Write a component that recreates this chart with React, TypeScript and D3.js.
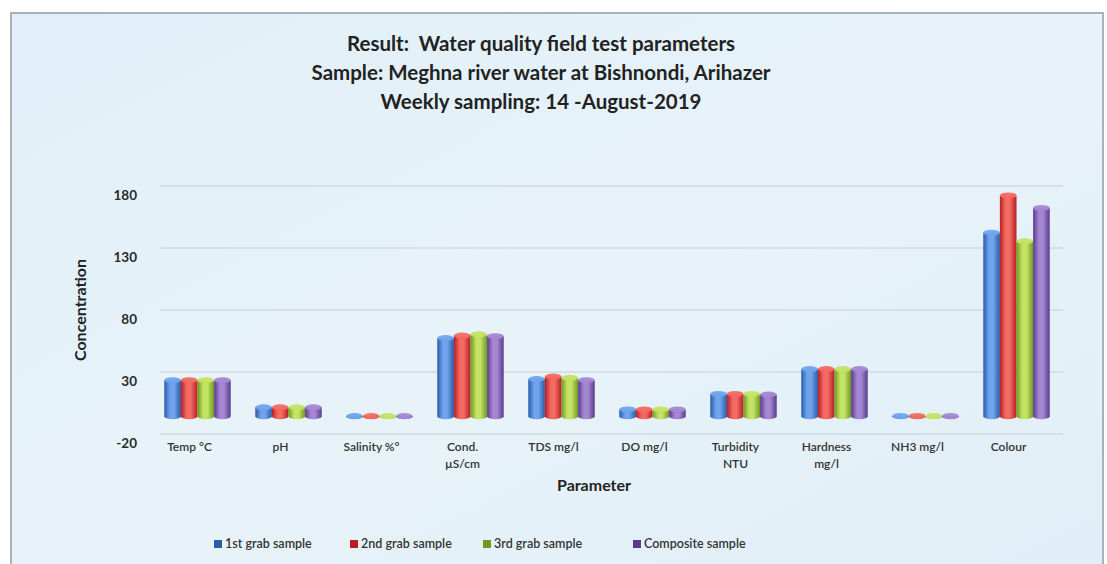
import React from 'react';
import * as d3 from 'd3';

const categories = [
  ['Temp °C'],
  ['pH'],
  ['Salinity %°'],
  ['Cond.', 'µS/cm'],
  ['TDS mg/l'],
  ['DO mg/l'],
  ['Turbidity', 'NTU'],
  ['Hardness', 'mg/l'],
  ['NH3 mg/l'],
  ['Colour'],
];

const seriesNames = ['1st grab sample', '2nd grab sample', '3rd grab sample', 'Composite sample'];

const firstGrab = [29, 7.2, 0.1, 63, 30, 5.5, 18, 38, 0.2, 148];
const secondGrab = [29, 7.2, 0.1, 65, 32, 5.5, 18, 38, 0.2, 178];
const thirdGrab = [29, 7.2, 0.1, 66, 31, 5.5, 18, 38, 0.2, 141];
const compositeSample = [29, 7.2, 0.1, 64.5, 29, 5.5, 17.5, 38, 0.2, 168];

const yTicks = [-20, 30, 80, 130, 180];

const titleLines = [
  'Result:  Water quality field test parameters',
  'Sample: Meghna river water at Bishnondi, Arihazer',
  'Weekly sampling: 14 -August-2019',
];

// light centre, dark edge for each series cylinder
const seriesColors = [
  { light: '#6fa4ec', dark: '#2b5aa8' },
  { light: '#f26a62', dark: '#b51f22' },
  { light: '#c4e264', dark: '#6e9a22' },
  { light: '#a486d2', dark: '#5a3a8c' },
];

const W = 1107;
const H = 564;
const DEPTH = 7; // back wall sits this much above the bar fronts
const FONT = 'Lato, "Open Sans", sans-serif';

export default function App() {
  const allSeries = [firstGrab, secondGrab, thirdGrab, compositeSample];

  const x = d3
    .scaleBand<number>()
    .domain(d3.range(categories.length))
    .range([152, 1062])
    .paddingInner(0.27)
    .paddingOuter(0.135);

  const xs = d3
    .scaleBand<number>()
    .domain(d3.range(seriesNames.length))
    .range([0, x.bandwidth()])
    .padding(0);

  const y = d3.scaleLinear().domain([-20, 180]).range([441, 193]);

  const ry = 3;
  const bw = xs.bandwidth();

  return (
    <svg width={W} height={H} style={{ display: 'block', position: 'absolute', left: 0, top: 0 }}>
      <defs>
        {seriesColors.map((c, i) => (
          <linearGradient key={i} id={`cyl${i}`} x1="0" x2="1" y1="0" y2="0">
            <stop offset="0%" stopColor={c.dark} />
            <stop offset="35%" stopColor={c.light} />
            <stop offset="60%" stopColor={c.light} />
            <stop offset="100%" stopColor={c.dark} />
          </linearGradient>
        ))}
        <linearGradient id="panelBg" x1="0" x2="1" y1="0" y2="1">
          <stop offset="0%" stopColor="#e0eff8" />
          <stop offset="50%" stopColor="#e8f3f9" />
          <stop offset="100%" stopColor="#e0eef7" />
        </linearGradient>
      </defs>

      <rect x={0} y={0} width={W} height={H} fill="#ffffff" />
      <rect x={11} y={13} width={1092} height={H} fill="url(#panelBg)" stroke="#a8b2ba" strokeWidth={2} />

      {titleLines.map((t, i) => (
        <text
          key={i}
          x={541}
          y={51 + i * 29}
          textAnchor="middle"
          fontFamily={FONT}
          fontWeight="bold"
          fontSize={20.5}
          fill="#222"
          style={{ whiteSpace: 'pre' }}
        >
          {t}
        </text>
      ))}

      {/* gridlines on the back wall */}
      {yTicks.map((v) => (
        <line
          key={v}
          x1={160}
          x2={1063}
          y1={y(v) - DEPTH}
          y2={y(v) - DEPTH}
          stroke="#c5ced6"
          strokeWidth={1.2}
        />
      ))}

      {yTicks.map((v) => (
        <text
          key={v}
          x={137}
          y={y(v) + 4}
          textAnchor="end"
          dominantBaseline="middle"
          fontFamily={FONT}
          fontWeight="bold"
          fontSize={13.5}
          fill="#2a2a2a"
        >
          {v}
        </text>
      ))}

      <text
        transform={`translate(86,310) rotate(-90)`}
        textAnchor="middle"
        fontFamily={FONT}
        fontWeight="bold"
        fontSize={16}
        fill="#222"
      >
        Concentration
      </text>

      {/* cylinders */}
      {categories.map((_, ci) =>
        allSeries.map((vals, si) => {
          const x0 = (x(ci) ?? 0) + (xs(si) ?? 0);
          const yTop = y(vals[ci]);
          const yBase = y(0);
          const r = bw / 2;
          const body = `M${x0},${yTop} L${x0},${yBase} A${r},${ry} 0 0 0 ${x0 + bw},${yBase} L${x0 + bw},${yTop} Z`;
          return (
            <g key={`${ci}-${si}`}>
              <path d={body} fill={`url(#cyl${si})`} />
              <ellipse cx={x0 + r} cy={yTop} rx={r} ry={ry} fill={seriesColors[si].light} opacity={0.95} />
            </g>
          );
        })
      )}

      {categories.map((lines, ci) => (
        <text
          key={ci}
          x={(x(ci) ?? 0) + x.bandwidth() / 2 - 8}
          y={451}
          textAnchor="middle"
          fontFamily={FONT}
          fontWeight={600}
          fontSize={12}
          fill="#333"
        >
          {lines.map((l, li) => (
            <tspan key={li} x={(x(ci) ?? 0) + x.bandwidth() / 2 - 8} dy={li === 0 ? 0 : 17}>
              {l}
            </tspan>
          ))}
        </text>
      ))}

      <text x={594} y={491} textAnchor="middle" fontFamily={FONT} fontWeight="bold" fontSize={16} fill="#222">
        Parameter
      </text>

      {seriesNames.map((name, i) => {
        const lx = [214, 350, 483, 633][i];
        return (
          <g key={name}>
            <rect x={lx} y={540} width={8} height={8} fill={seriesColors[i].dark} />
            <text x={lx + 11} y={548} fontFamily={FONT} fontWeight={600} fontSize={12.5} fill="#333">
              {name}
            </text>
          </g>
        );
      })}
    </svg>
  );
}
